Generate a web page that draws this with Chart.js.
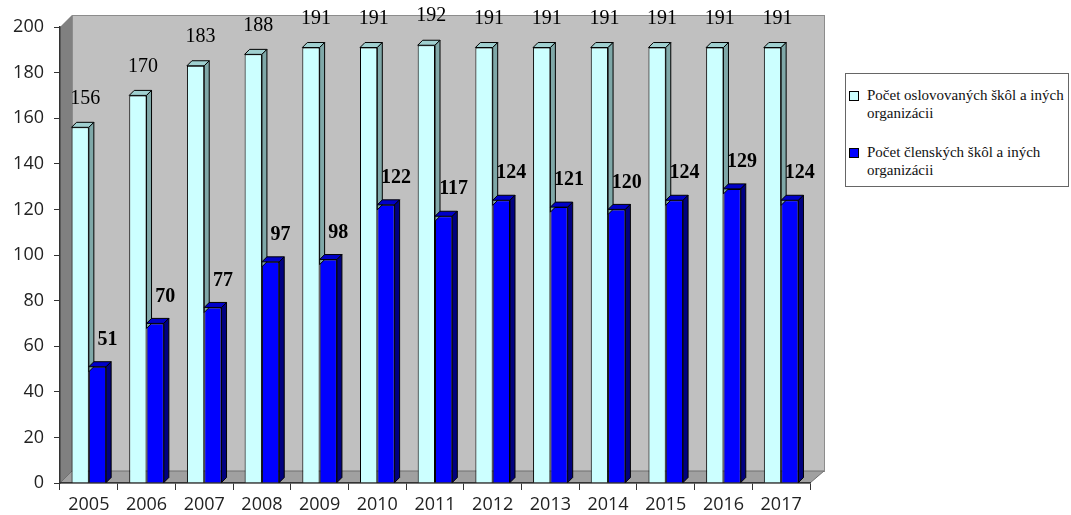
<!DOCTYPE html>
<html>
<head>
<meta charset="utf-8">
<script src="https://cdn.jsdelivr.net/npm/chart.js@4/dist/chart.umd.min.js"></script>
<style>
  html, body { margin: 0; padding: 0; background: #fff; }
  #wrap { position: relative; width: 1071px; height: 515px; }
  #legend {
    position: absolute; left: 845px; top: 73px; width: 224px; height: 114px;
    border: 1px solid #666; box-sizing: border-box; background: #fff;
    font-family: "Liberation Serif", "Times New Roman", serif; font-size: 15px; color: #111;
  }
  .item { position: absolute; left: 21px; line-height: 18px; }
  .box { position: absolute; left: -18px; top: 5px; width: 8px; height: 8px; border: 1px solid #000; }
</style>
</head>
<body>
<div id="wrap">
  <canvas id="chart" width="1071" height="515"></canvas>
  <div id="legend">
    <div class="item" style="top:12px"><span class="box" style="background:#ccffff"></span>Počet oslovovaných škôl a iných<br>organizácii</div>
    <div class="item" style="top:69px"><span class="box" style="background:#0000ff"></span>Počet členských škôl a iných<br>organizácii</div>
  </div>
</div>
<script>
// ---------- data ----------
const years = ['2005', '2006', '2007', '2008', '2009', '2010', '2011', '2012', '2013', '2014', '2015', '2016', '2017'];
const oslovovane = [156, 170, 183, 188, 191, 191, 192, 191, 191, 191, 191, 191, 191];
const clenske = [51, 70, 77, 97, 98, 122, 117, 124, 121, 120, 124, 129, 124];

const DEPTH = 5;      // bar depth
const WALL = 12;      // wall depth

// gray walls + floor behind everything
const walls = {
    id: 'walls',
    beforeDraw(chart) {
        const { ctx, chartArea: a } = chart;
        ctx.save();
        // back wall
        ctx.fillStyle = '#c0c0c0';
        ctx.fillRect(a.left + WALL, a.top - WALL, a.right - a.left + 2, a.bottom - a.top);
        ctx.strokeStyle = '#8c8c8c';
        ctx.lineWidth = 1;
        ctx.strokeRect(a.left + WALL + 0.5, a.top - WALL + 0.5, a.right - a.left + 2, a.bottom - a.top);
        // left wall
        ctx.fillStyle = '#808080';
        ctx.beginPath();
        ctx.moveTo(a.left, a.top);
        ctx.lineTo(a.left + WALL, a.top - WALL);
        ctx.lineTo(a.left + WALL, a.bottom - WALL);
        ctx.lineTo(a.left, a.bottom);
        ctx.closePath();
        ctx.fill();
        // floor
        ctx.fillStyle = '#a0a0a0';
        ctx.beginPath();
        ctx.moveTo(a.left, a.bottom);
        ctx.lineTo(a.left + WALL, a.bottom - WALL);
        ctx.lineTo(a.right + WALL + 2, a.bottom - WALL);
        ctx.lineTo(a.right, a.bottom);
        ctx.closePath();
        ctx.fill();
        ctx.strokeStyle = '#707070';
        ctx.stroke();
        ctx.restore();
    }
};

function drawFaces(ctx, bar, ds, sideBottom) {
    const x1 = bar.x - bar.width / 2, x2 = bar.x + bar.width / 2;
    const y = bar.y;
    ctx.fillStyle = ds.topColor;
    ctx.beginPath();
    ctx.moveTo(x1, y);
    ctx.lineTo(x1 + DEPTH, y - DEPTH);
    ctx.lineTo(x2 + DEPTH, y - DEPTH);
    ctx.lineTo(x2, y);
    ctx.closePath();
    ctx.fill();
    ctx.stroke();
    if (sideBottom <= y) return;
    ctx.fillStyle = ds.sideColor;
    ctx.beginPath();
    ctx.moveTo(x2, y);
    ctx.lineTo(x2 + DEPTH, y - DEPTH);
    ctx.lineTo(x2 + DEPTH, sideBottom - DEPTH);
    ctx.lineTo(x2, sideBottom);
    ctx.closePath();
    ctx.fill();
    ctx.stroke();
}

// top + side faces of each bar; front series first so the back one's side hides behind
const faces = {
    id: 'faces',
    afterDatasetsDraw(chart) {
        const { ctx } = chart;
        const first = chart.getDatasetMeta(0).data;
        const second = chart.getDatasetMeta(1).data;
        ctx.save();
        ctx.strokeStyle = '#000';
        ctx.lineWidth = 1;
        first.forEach((bar, j) => {
            const next = second[j];
            drawFaces(ctx, bar, chart.data.datasets[0], Math.min(bar.base, next.y + DEPTH));
        });
        second.forEach(bar => drawFaces(ctx, bar, chart.data.datasets[1], bar.base));
        ctx.restore();
    }
};

// value labels
const valueLabels = {
    id: 'valueLabels',
    afterDraw(chart) {
        const { ctx } = chart;
        ctx.save();
        ctx.fillStyle = '#000';
        ctx.textAlign = 'center';
        ctx.textBaseline = 'middle';
        chart.data.datasets.forEach((ds, i) => {
            const meta = chart.getDatasetMeta(i);
            ctx.font = ds.labelFont;
            meta.data.forEach((bar, j) => {
                ctx.fillText(ds.data[j], bar.x + ds.labelDx, bar.y - ds.labelDy);
            });
        });
        ctx.restore();
    }
};

new Chart(document.getElementById('chart'), {
    type: 'bar',
    data: {
        labels: years,
        datasets: [
            {
                label: 'Počet oslovovaných škôl a iných organizácii',
                data: oslovovane,
                backgroundColor: '#ccffff',
                topColor: '#9fd0d0',
                sideColor: '#7fa8a8',
                borderColor: '#000',
                borderWidth: 1,
                labelFont: '20px "Liberation Serif", serif',
                labelDx: 5,
                labelDy: 29
            },
            {
                label: 'Počet členských škôl a iných organizácii',
                data: clenske,
                backgroundColor: '#0000ff',
                topColor: '#0000c8',
                sideColor: '#000080',
                borderColor: '#000',
                borderWidth: 1,
                labelFont: 'bold 20px "Liberation Serif", serif',
                labelDx: 10,
                labelDy: 27
            }
        ]
    },
    options: {
        responsive: false,
        animation: false,
        events: [],
        layout: { padding: { left: 0, right: 261, top: 27, bottom: 0 } },
        categoryPercentage: 0.6,
        barPercentage: 1,
        plugins: {
            legend: { display: false },
            tooltip: { enabled: false }
        },
        scales: {
            x: {
                afterFit(scale) { scale.height = 32; },
                grid: { drawOnChartArea: false, tickLength: 7, color: '#333', offset: true },
                border: { display: true, color: '#333', width: 1.5 },
                ticks: { color: '#222', padding: 4, font: { family: 'Open Sans', size: 18 } }
            },
            y: {
                min: 0,
                max: 200,
                afterFit(scale) { scale.width = 60; },
                grid: { drawOnChartArea: false, tickLength: 6, color: '#333' },
                border: { display: true, color: '#333', width: 1.5 },
                ticks: { stepSize: 20, color: '#222', padding: 10, font: { family: 'Open Sans', size: 18 } }
            }
        }
    },
    plugins: [walls, faces, valueLabels]
});
</script>
</body>
</html>
